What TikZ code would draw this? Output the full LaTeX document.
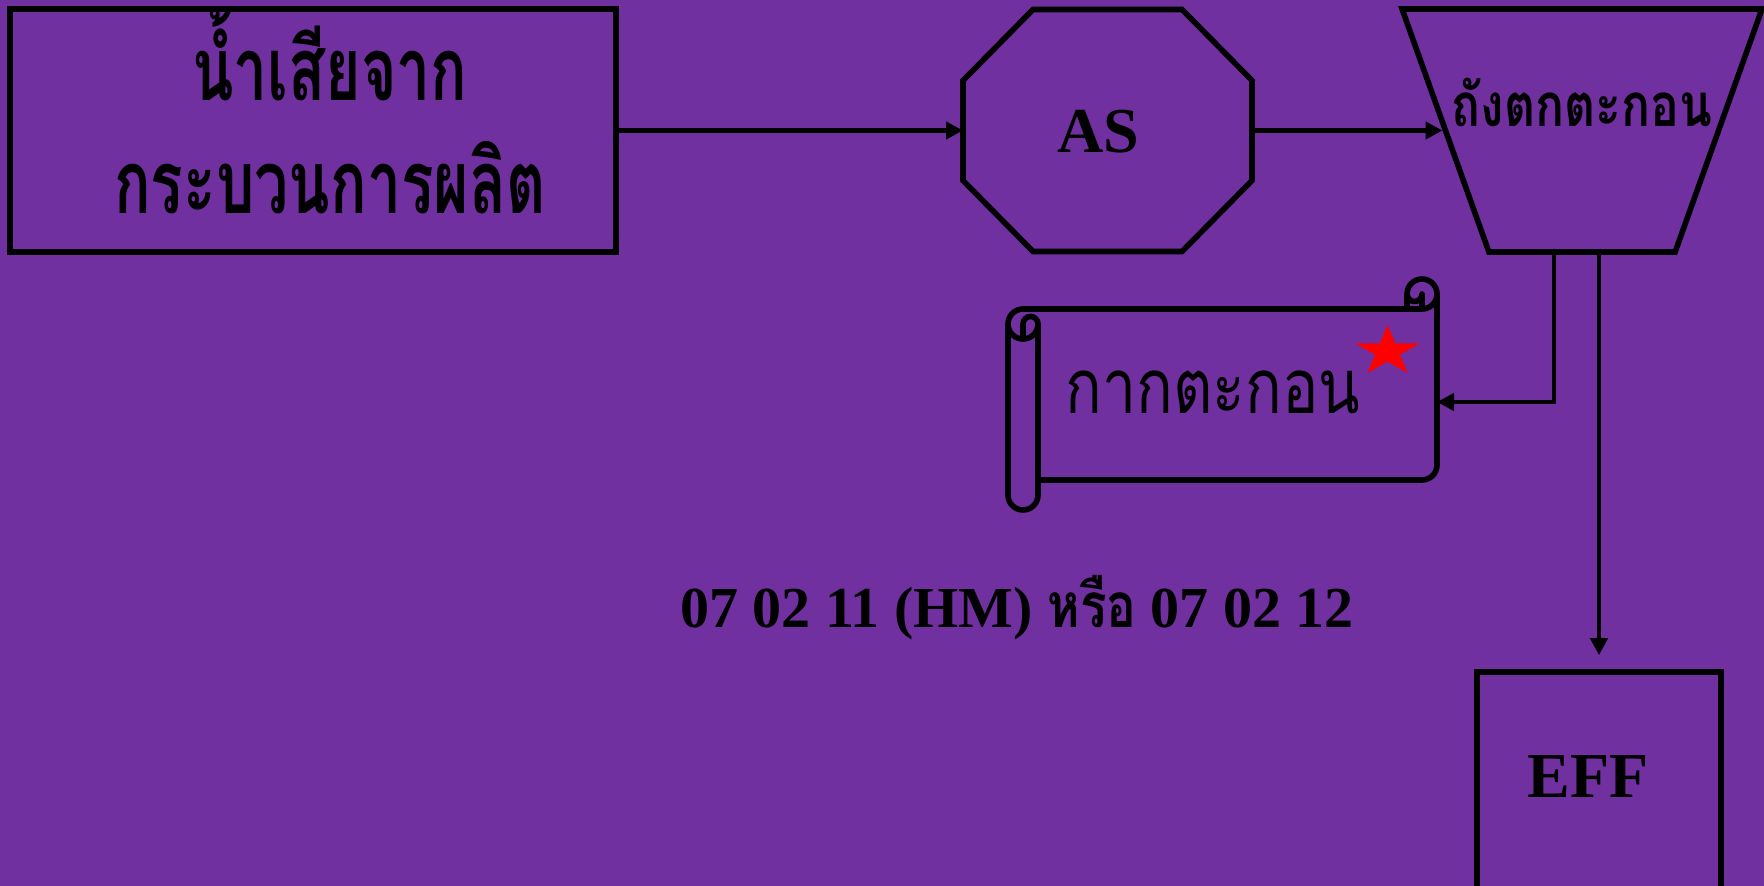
\documentclass[tikz,border=0pt]{standalone}
\usepackage{fontspec}
\setmainfont{Liberation Serif}
\newfontfamily\thaifont[Script=Thai,FakeStretch=0.8]{Loma}
\newfontfamily\thaicond[Script=Thai,FakeStretch=0.69]{Loma}
\usepackage{xcolor}
\usetikzlibrary{shapes.geometric, arrows.meta, positioning, calc}

\definecolor{bgpurple}{HTML}{7030A0}

\begin{document}
\begin{tikzpicture}[x=0.5pt, y=-0.5pt,
    unit/.style={draw=black, line width=2.8pt, inner sep=0pt},
    flow/.style={draw=black, line width=2.2pt, -{Triangle[length=8.5pt, width=8.5pt]}},
    latinlbl/.style={font=\bfseries\fontsize{32}{38}\selectfont, anchor=base}]
\path[use as bounding box, fill=bgpurple] (0,0) rectangle (1764,886);

% wastewater from the process
\node[unit, minimum width=303pt, minimum height=121.5pt] (src) at (313,130.5) {};
\node[anchor=base, font=\thaicond\bfseries\fontsize{44}{50}\selectfont] at (330,101) {น้ำเสียจาก};
\node[anchor=base, font=\thaicond\bfseries\fontsize{44}{50}\selectfont] at (330,214) {กระบวนการผลิต};

% aeration tank
\node[minimum width=144.5pt, minimum height=121pt, inner sep=0pt, outer sep=0pt] (as) at (1107.5,130.5) {};
\draw[unit] ([xshift=35pt]as.north west) -- ([xshift=-35pt]as.north east)
  -- ([yshift=-35.5pt]as.north east) -- ([yshift=35.5pt]as.south east)
  -- ([xshift=-35pt]as.south east) -- ([xshift=35pt]as.south west)
  -- ([yshift=35.5pt]as.south west) -- ([yshift=-35.5pt]as.north west) -- cycle;
\node[latinlbl] at (1098,153) {AS};

% settling tank
\node[unit, inner sep=2pt, trapezium, shape border rotate=180, trapezium angle=65, trapezium stretches=true,
  minimum width=180pt, minimum height=121.5pt] (settle) at (1582,130.5) {};
\node[anchor=base, font=\thaifont\bfseries\fontsize{30}{36}\selectfont] at (1582,127) {ถังตกตะกอน};

% effluent
\node[unit, minimum width=122pt, minimum height=109pt] (eff) at (1599,781) {};
\node[latinlbl] at (1588,797) {EFF};

% sludge (scroll)
\node[minimum width=214.5pt, minimum height=108pt, inner sep=0pt, outer sep=0pt] (waste) at (1222.5,402) {};
\draw[unit, line join=round] (1008,324) arc[start angle=180, end angle=270, radius=15]
  -- (1422,309) -- (1422,294)
  arc[start angle=0, end angle=180, radius=7.5]
  arc[start angle=180, end angle=360, radius=15]
  -- (1437,465)
  arc[start angle=0, end angle=90, radius=15]
  -- (1038,480) -- (1038,495)
  arc[start angle=0, end angle=180, radius=15]
  -- cycle;
\draw[unit] (1407,294) -- (1407,309);
\draw[unit] (1422,309) arc[start angle=90, end angle=0, radius=15];
\draw[unit] (1023,339) -- (1023,324)
  arc[start angle=180, end angle=360, radius=7.5]
  arc[start angle=0, end angle=180, radius=15];
\draw[unit] (1038,324) -- (1038,480);
\node[anchor=base, font=\thaifont\fontsize{38}{44}\selectfont] at (1213,414) {กากตะกอน};
\begin{scope}[shift={(1387.5,351.5)}, xscale=1.29]
  \node[star, star points=5, star point ratio=2.618, fill=red, minimum size=26.5pt,
    inner sep=0pt, transform shape] (mark) {};
\end{scope}

% waste code
\node[anchor=base, font=\bfseries\fontsize{29}{34}\selectfont] (code) at (1017,627)
  {07 02 11 (HM) {\thaifont\fontsize{31}{34}\selectfont หรือ} 07 02 12};

% connectors
\coordinate (drain) at (1554,252);
\draw[flow] (src.east) -- (as.west);
\draw[flow] (as.east) -- (settle);
\draw[flow] (drain) |- (waste.east);
\draw[flow, shorten >=7pt] (settle.south -| eff.north) -- (eff.north);
\end{tikzpicture}
\end{document}
